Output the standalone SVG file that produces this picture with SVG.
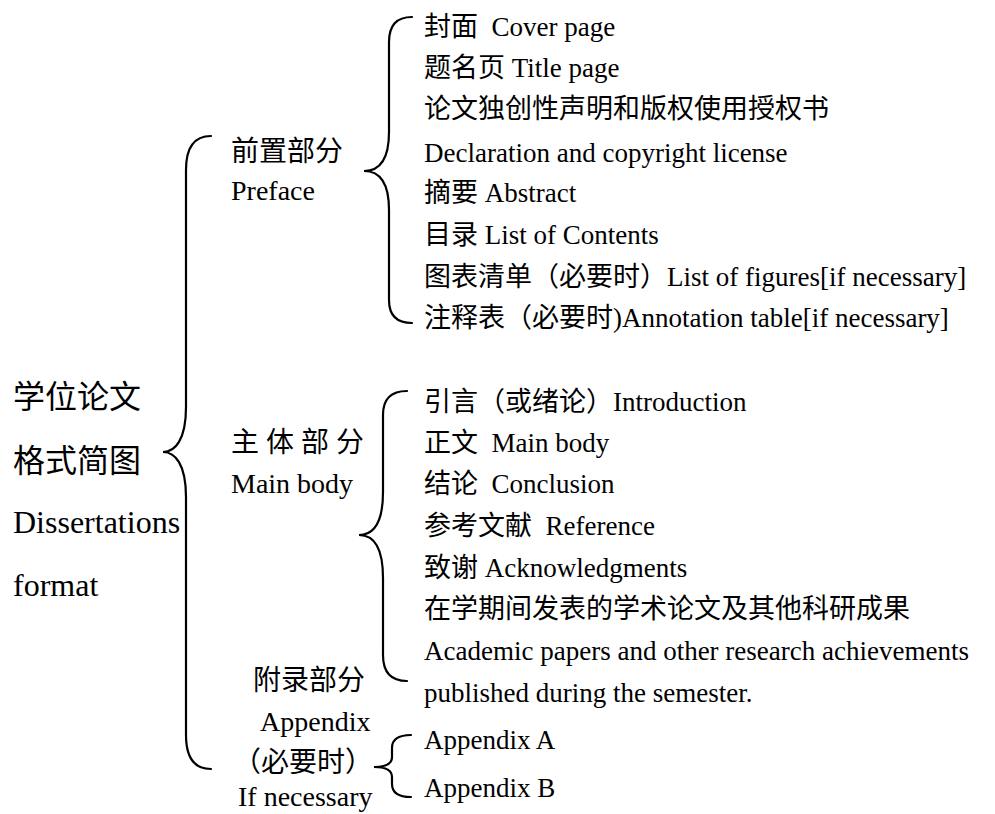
<svg xmlns="http://www.w3.org/2000/svg" width="995" height="814" viewBox="0 0 995 814">
<style>
text{font-family:"Liberation Serif","Noto Sans CJK SC",serif;fill:#000;white-space:pre}
.t{font-size:32px}
.m{font-size:28px}
.i{font-size:27px}
.b{fill:none;stroke:#000;stroke-width:2.2;stroke-linecap:round}
</style>
<rect width="995" height="814" fill="#fff"/>
<g id="connectors">
<path class="b" d="M211,136 Q186,136 186,170 L186,407 C186,440 175,452 163,452 C175,452 186,464 186,497 L186,735 Q186,769 211,769"/>
<path class="b" d="M412,17 Q389,17 389,42 L389,132 C389,162 378,171 364,171 C378,171 389,180 389,210 L389,300 Q389,323 412,323"/>
<path class="b" d="M407,391 Q383,391 383,415 L383,492 C383,525 372,535 359,535 C372,535 383,545 383,578 L383,655 Q383,681 407,681"/>
<path class="b" d="M411,735 Q392,735 392,748 L392,757 C392,764 385,767 374,767 C385,767 392,770 392,777 L392,784 Q392,797 411,797"/>
</g>
<g id="root">
<text class="t" x="13" y="408">学位论文</text>
<text class="t" x="13" y="472">格式简图</text>
<text class="t" x="13" y="533">Dissertations</text>
<text class="t" x="13" y="596">format</text>
</g>
<g id="preface">
<text class="m" x="231" y="161">前置部分</text>
<text class="m" x="231" y="200">Preface</text>
</g>
<g id="mainbody">
<text class="m" x="231" y="452">主 体 部 分</text>
<text class="m" x="231" y="493">Main body</text>
</g>
<g id="appendix">
<text class="m" x="253" y="690">附录部分</text>
<text class="m" x="260" y="731">Appendix</text>
<text class="m" x="233" y="772">（必要时）</text>
<text class="m" x="238" y="806">If necessary</text>
</g>
<g id="preface-items">
<text class="i" x="424" y="36">封面  Cover page</text>
<text class="i" x="424" y="77">题名页 Title page</text>
<text class="i" x="424" y="118">论文独创性声明和版权使用授权书</text>
<text class="i" x="424" y="162">Declaration and copyright license</text>
<text class="i" x="424" y="202">摘要 Abstract</text>
<text class="i" x="424" y="244">目录 List of Contents</text>
<text class="i" x="424" y="286">图表清单（必要时）List of figures[if necessary]</text>
<text class="i" x="424" y="327">注释表（必要时)Annotation table[if necessary]</text>
</g>
<g id="mainbody-items">
<text class="i" x="424" y="411">引言（或绪论）Introduction</text>
<text class="i" x="424" y="452">正文  Main body</text>
<text class="i" x="424" y="493">结论  Conclusion</text>
<text class="i" x="424" y="535">参考文献  Reference</text>
<text class="i" x="424" y="577">致谢 Acknowledgments</text>
<text class="i" x="424" y="618">在学期间发表的学术论文及其他科研成果</text>
<text class="i" x="424" y="660">Academic papers and other research achievements</text>
<text class="i" x="424" y="702">published during the semester.</text>
</g>
<g id="appendix-items">
<text class="i" x="424" y="749">Appendix A</text>
<text class="i" x="424" y="797">Appendix B</text>
</g>
</svg>
